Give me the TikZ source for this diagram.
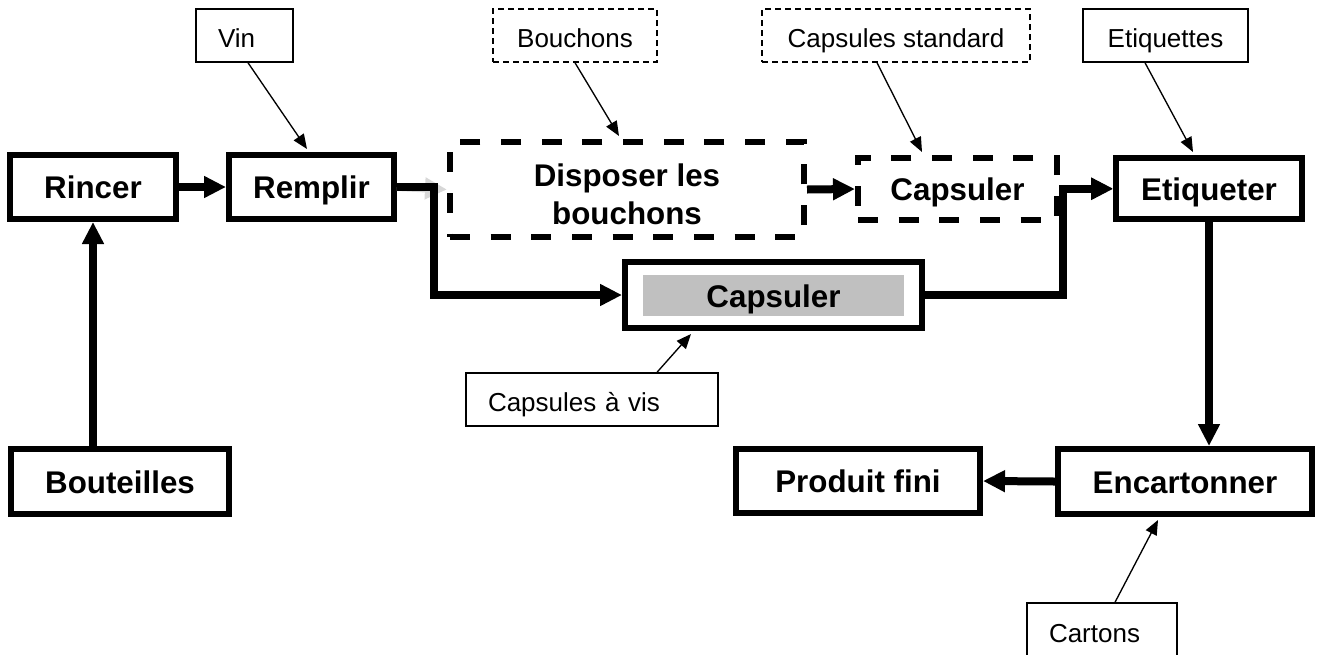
\documentclass[tikz,border=0pt]{standalone}
\usepackage{fontspec}
\setmainfont{Liberation Sans}
\usetikzlibrary{arrows.meta,calc}
\definecolor{capgray}{RGB}{192,192,192}
\definecolor{ghost}{RGB}{215,215,215}
\begin{document}
\begin{tikzpicture}[x=0.75pt,y=-0.75pt,
  bigtext/.style={font=\fontsize{23.5}{28.5}\selectfont\bfseries,text height=17.5pt,text depth=0pt},
  proc/.style={draw,line width=4.5pt,inner sep=0pt,align=center,fill=white,bigtext},
  procd/.style={proc,dash pattern=on 15pt off 15.5pt},
  lbl/.style={draw,line width=1.1pt,inner sep=0pt,minimum height=39.75pt,
    font=\fontsize{19.5}{23}\selectfont,text height=18pt,text depth=0pt,align=center},
  lbld/.style={lbl,dash pattern=on 4.5pt off 3pt},
  lbll/.style={lbl,align=left,inner xsep=16.5pt},
  flow/.style={line width=6pt,-{Triangle[length=16.5pt,width=15.5pt]}},
  feed/.style={line width=1pt,-{Triangle[length=11pt,width=9pt]}},
]
\useasboundingbox (0,0) rectangle (1319,654);

% process boxes
\node[proc,minimum width=124.5pt,minimum height=48pt] (rincer) at (93,187) {Rincer};
\node[proc,minimum width=123.75pt,minimum height=48pt] (rempl) at (311.5,187) {Remplir};
\node[procd,minimum width=265.5pt,minimum height=71.25pt,text height=,text depth=]
  (disp) at (627,189.5) {\rule{0pt}{24pt}Disposer les\\bouchons};
\node[procd,minimum width=149.25pt,minimum height=46.5pt] (capd) at (957.5,189) {Capsuler};
\node[proc,minimum width=139.5pt,minimum height=45.75pt] (etiq) at (1209,188.5) {Etiqueter};
\node[proc,minimum width=222.75pt,minimum height=49.5pt] (capg) at (773.5,295) {};
\node[fill=capgray,inner sep=0pt,minimum width=195.75pt,minimum height=30.75pt,bigtext]
  (capgin) at (773.5,295.5) {Capsuler};
\node[proc,minimum width=163.5pt,minimum height=48.75pt] (bout) at (120,481.5) {Bouteilles};
\node[proc,minimum width=183pt,minimum height=48pt] (prod) at (858,481) {Produit fini};
\node[proc,minimum width=190.5pt,minimum height=48.75pt] (enc) at (1185,481.5) {Encartonner};

% input labels
\node[lbll,text width=39.75pt] (vin) at (244.5,35.5) {Vin};
\node[lbld,minimum width=123pt] (bouch) at (575,35.5) {Bouchons};
\node[lbld,minimum width=201pt] (capstd) at (896,35.5) {Capsules standard};
\node[lbl,minimum width=123.75pt] (etiqs) at (1165.5,35.5) {Etiquettes};
\node[lbll,text width=156pt] (capvis) at (592,399.5) {Capsules à vis};
\node[lbll,text width=79.5pt,minimum height=40.5pt] (cart) at (1102,630) {Cartons};

% main flow
\coordinate (j) at ($(etiq.west)+(-50,0)$);
\draw[flow,color=ghost] (rempl.east) -- (disp.west);
\draw[flow] (bout.north -| rincer.south) -- (rincer.south);
\draw[flow] (rincer.east) -- (rempl.west);
\draw[flow] (rempl.east) -- ++(37,0) |- (capg.west);
\draw[flow] (disp.east) -- (capd.west);
\draw[flow] (capd.east) -- (capd.east -| etiq.west);
\draw[flow] (capg.east) -| (j) -- (etiq.west);
\draw[flow] (etiq.south) -- (etiq.south |- enc.north);
\draw[flow] (enc.west) -- (prod.east);

% feeds
\draw[feed] ($(vin.south)+(3.5,0)$) -- ($(rempl.north)+(-4.5,-3)$);
\draw[feed] (bouch.south) -- ($(disp.north)+(-8,-3)$);
\draw[feed] ($(capstd.south)+(-19,0)$) -- ($(capd.north)+(-35.5,-3)$);
\draw[feed] ($(etiqs.south)+(-20.5,0)$) -- ($(etiq.north)+(-16,-3)$);
\draw[feed] ($(capvis.north)+(65,0)$) -- ($(capg.south)+(-82.5,3)$);
\draw[feed] ($(cart.north)+(13,0)$) -- ($(enc.south)+(-27,3)$);
\end{tikzpicture}
\end{document}
